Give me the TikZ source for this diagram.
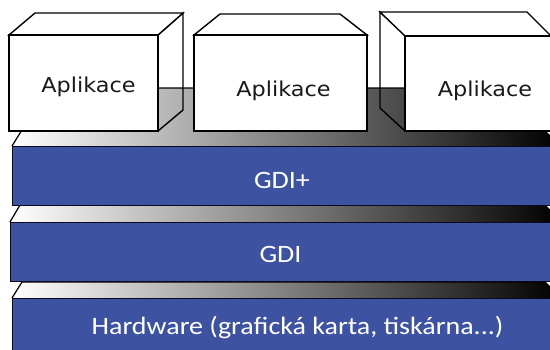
\documentclass[tikz,border=0pt]{standalone}
\usepackage{fontspec}
\newfontfamily\boxfont{DejaVu Sans}
\newfontfamily\slabfont{Carlito}
\definecolor{slabblue}{RGB}{61,82,161}
\definecolor{boxtext}{RGB}{25,25,25}
\tikzset{
  boxline/.style={draw=black, line width=1.4pt, line join=miter},
  slabfront/.style={draw=black!85!slabblue, line width=1pt, fill=slabblue},
  slabtop/.style={left color=white, right color=black},
  slabtopline/.style={draw=black, line width=1.2pt},
  apptext/.style={anchor=base, inner sep=0pt, text=boxtext, font=\boxfont\fontsize{20.5}{24}\selectfont},
  slabtext/.style={anchor=base, inner sep=0pt, text=white, font=\slabfont\fontsize{25}{30}\selectfont}
}
\begin{document}
\begin{tikzpicture}[x=1pt, y=-1pt]
\useasboundingbox (0,0) rectangle (550,349);
\clip (0,0) rectangle (550,349);
% Hardware slab
\shade[slabtop] (22,282) -- (545,282) -- (561,298) -- (12,298) -- cycle;
\draw[slabtopline] (561,298) -- (545,282) -- (22,282) -- (12,298);
\draw[slabfront] (12,298) rectangle (562,362);
\node[slabtext] (hw) at (297.5,334) {\scalebox{1.12}[1]{Hardware (grafická karta, tiskárna...)}};
% GDI slab
\shade[slabtop] (20,205) -- (545,205) -- (561,222) -- (10,222) -- cycle;
\draw[slabtopline] (561,222) -- (545,205) -- (20,205) -- (10,222);
\draw[slabfront] (10,222) rectangle (562,281);
\node[slabtext] (gdi) at (280.5,262) {\scalebox{1.12}[1]{GDI}};
% GDI+ slab
\shade[slabtop] (48,88) -- (502,88) -- (560,146) -- (12,146) -- cycle;
\draw[slabtopline] (560,146) -- (502,88) -- (48,88) -- (12,146);
\draw[slabfront] (12,146) rectangle (562,205);
\node[slabtext] (gdiplus) at (282,188) {\scalebox{1.12}[1]{GDI+}};
% Box 1
\draw[boxline] (158,35) -- (183,13) -- (183,110) -- (158,131);
\draw[boxline, fill=white] (9,35) -- (35,13) -- (183,13) -- (158,35) -- cycle;
\draw[boxline, fill=white] (9,35) rectangle (158,131);
\node[apptext] (app1) at (88.5,92) {\scalebox{1.09}[1]{Aplikace}};
% Box 2
\draw[boxline, fill=white] (194,35) -- (220,14) -- (340,14) -- (367,35) -- cycle;
\draw[boxline, fill=white] (194,35) rectangle (367,131);
\node[apptext] (app2) at (283.5,96) {\scalebox{1.09}[1]{Aplikace}};
% Box 3
\draw[boxline] (405,35) -- (380,12) -- (380,108) -- (405,131);
\draw[boxline, fill=white] (380,12) -- (527,12) -- (551,36) -- (405,36) -- cycle;
\draw[boxline, fill=white] (405,36) rectangle (565,131);
\node[apptext] (app3) at (485,96) {\scalebox{1.09}[1]{Aplikace}};
\end{tikzpicture}
\end{document}
